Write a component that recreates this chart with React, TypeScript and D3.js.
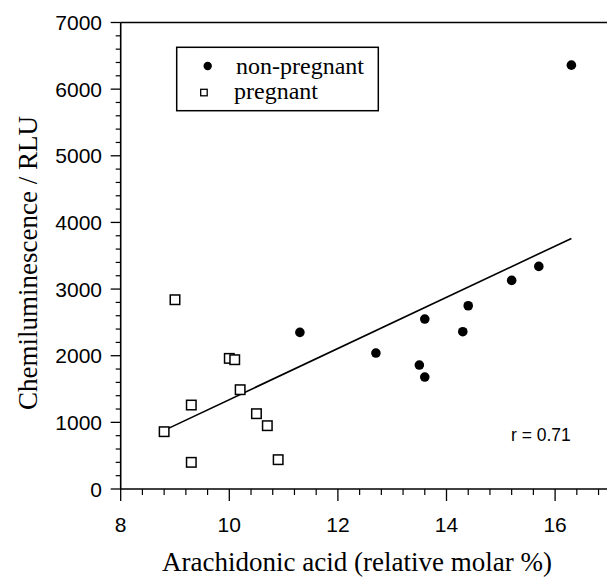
import React from "react";
import * as d3 from "d3";

const nonPregnantX = [11.3, 12.7, 13.5, 13.6, 13.6, 14.3, 14.4, 15.2, 15.7, 16.3];
const nonPregnantY = [2350, 2040, 1860, 1680, 2550, 2360, 2750, 3130, 3340, 6360];
const pregnantX = [8.8, 9.0, 9.3, 9.3, 10.0, 10.1, 10.2, 10.5, 10.7, 10.9];
const pregnantY = [860, 2840, 1260, 400, 1960, 1940, 1490, 1130, 950, 440];
const fitX = [8.8, 16.3];
const fitY = [880, 3760];
const xTicks = [8, 10, 12, 14, 16];
const yTicks = [0, 1000, 2000, 3000, 4000, 5000, 6000, 7000];
const legendLabels = ["non-pregnant", "pregnant"];
const annotation = "r = 0.71";
const xTitle = "Arachidonic acid (relative molar %)";
const yTitle = "Chemiluminescence / RLU";

const W = 607;
const H = 577;

export default function App() {
  const x = d3.scaleLinear().domain([8, 17]).range([120.7, 609.4]);
  const y = d3.scaleLinear().domain([0, 7000]).range([489, 22.5]);
  const xMinor = d3.range(8, 17, 0.4).map((v) => +v.toFixed(2)).filter((v) => !xTicks.some((t) => Math.abs(t - v) < 1e-6));
  const yMinor = d3.range(0, 7000, 200).filter((v) => v % 1000 !== 0);
  const line = d3.line<number>().x((_, i) => x(fitX[i])).y((_, i) => y(fitY[i]));
  const sans = "'Liberation Sans', Arial, sans-serif";
  const serif = "'Liberation Serif', 'Times New Roman', serif";
  const sq = 9.5;
  const x0 = x(8);
  const yb = y(0);
  return (
    <div style={{ position: "absolute", left: 0, top: 0 }}>
      <svg width={W} height={H} style={{ display: "block", background: "#fff" }}>
        {/* frame */}
        <line x1={x0} x2={W} y1={y(7000)} y2={y(7000)} stroke="#000" strokeWidth={1.6} />
        <line x1={x0} x2={W} y1={yb} y2={yb} stroke="#000" strokeWidth={1.6} />
        <line x1={x0} x2={x0} y1={y(7000)} y2={yb} stroke="#000" strokeWidth={1.6} />
        {/* y ticks */}
        {yTicks.map((t) => (
          <g key={"yt" + t}>
            <line x1={x0 - 10} x2={x0} y1={y(t)} y2={y(t)} stroke="#000" strokeWidth={1.3} />
            <text x={102} y={y(t)} dy="0.36em" textAnchor="end" fontFamily={sans} fontSize={21}>{t}</text>
          </g>
        ))}
        {yMinor.map((t) => (
          <line key={"ym" + t} x1={x0 - 5} x2={x0} y1={y(t)} y2={y(t)} stroke="#000" strokeWidth={1.2} />
        ))}
        {/* x ticks */}
        {xTicks.map((t) => (
          <g key={"xt" + t}>
            <line x1={x(t)} x2={x(t)} y1={yb} y2={yb + 12} stroke="#000" strokeWidth={1.3} />
            <text x={x(t)} y={532} textAnchor="middle" fontFamily={sans} fontSize={21}>{t}</text>
          </g>
        ))}
        {xMinor.map((t) => (
          <line key={"xm" + t} x1={x(t)} x2={x(t)} y1={yb} y2={yb + 6} stroke="#000" strokeWidth={1.2} />
        ))}
        {/* fit line */}
        <path d={line(fitX) || ""} fill="none" stroke="#000" strokeWidth={1.6} />
        {/* data */}
        {pregnantX.map((v, i) => (
          <rect key={"p" + i} x={x(v) - sq / 2} y={y(pregnantY[i]) - sq / 2} width={sq} height={sq} fill="#fff" stroke="#000" strokeWidth={1.5} />
        ))}
        {nonPregnantX.map((v, i) => (
          <circle key={"n" + i} cx={x(v)} cy={y(nonPregnantY[i])} r={4.8} fill="#000" />
        ))}
        {/* legend */}
        <rect x={176.7} y={47.3} width={201.6} height={63.4} fill="#fff" stroke="#000" strokeWidth={1.5} />
        <circle cx={207.7} cy={66} r={4.2} fill="#000" />
        <rect x={200.7} y={89.3} width={6.5} height={6.5} fill="#fff" stroke="#000" strokeWidth={1.3} />
        <text x={236} y={74} fontFamily={serif} fontSize={24}>{legendLabels[0]}</text>
        <text x={234} y={99} fontFamily={serif} fontSize={24}>{legendLabels[1]}</text>
        {/* annotation */}
        <text x={511} y={441} fontFamily={sans} fontSize={17.5}>{annotation}</text>
        {/* titles */}
        <text x={357} y={571} textAnchor="middle" fontFamily={serif} fontSize={27}>{xTitle}</text>
        <text transform={`translate(37, 263) rotate(-90)`} textAnchor="middle" fontFamily={serif} fontSize={27}>{yTitle}</text>
      </svg>
    </div>
  );
}
